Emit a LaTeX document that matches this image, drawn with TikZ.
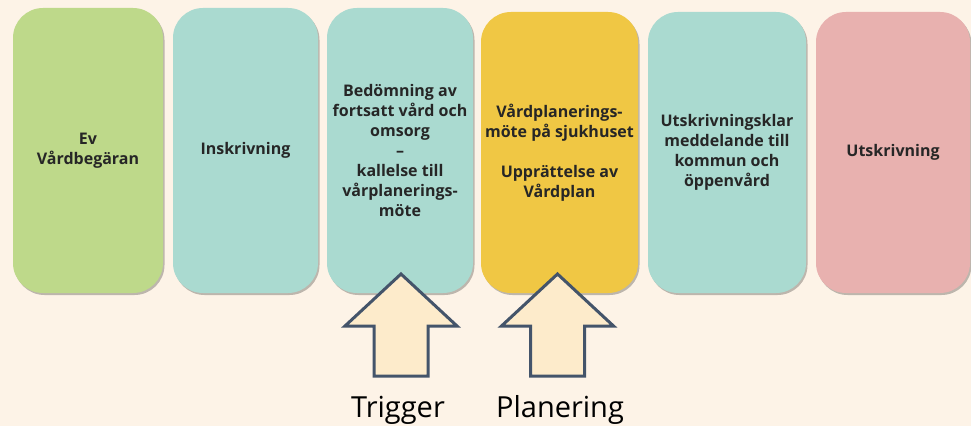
\documentclass[tikz,border=0pt]{standalone}
\usepackage{fontspec}
\setmainfont{Open Sans}
\usetikzlibrary{shadows}
\definecolor{bgcream}{HTML}{FDF3E7}
\definecolor{boxgreen}{HTML}{BED98A}
\definecolor{boxteal}{HTML}{AADAD0}
\definecolor{boxyellow}{HTML}{F0C744}
\definecolor{boxpink}{HTML}{E8B1AF}
\definecolor{arrowfill}{HTML}{FDEBCB}
\definecolor{arrowline}{HTML}{44546A}
\definecolor{boxtext}{HTML}{262626}
\tikzset{
	stepcard/.style={rounded corners=30pt, align=center, inner sep=2pt,
		text=boxtext, font=\bfseries\fontsize{16}{20}\selectfont,
		drop shadow={shadow xshift=1.5pt, shadow yshift=-2pt, fill=black, opacity=0.25}},
	bigarrow/.style={draw=arrowline, fill=arrowfill, line width=3pt, line join=miter},
	arrowlabel/.style={anchor=base, font=\fontsize{29}{34}\selectfont, text=black}
}
% block arrow pointing up, #1 = centre x
\def\uparrowblock(#1){\draw[bigarrow] ({#1},152) -- ({#1+56},100) -- ({#1+27},100) -- ({#1+27},50)
	-- ({#1-27},50) -- ({#1-27},100) -- ({#1-56},100) -- cycle;}

\begin{document}
\begin{tikzpicture}[x=1pt,y=1pt]
			%%%%% BACKGROUND %%%%%
			\fill[bgcream] (0,0) rectangle (971,426);
			\useasboundingbox (0,0) rectangle (971,426);
			
			%%%%% STEPS %%%%%
			\node[stepcard, fill=boxgreen, minimum width=150pt, minimum height=285pt] (ev) at (88,275.5) {Ev\\Vårdbegäran};
			\node[stepcard, fill=boxteal, minimum width=145pt, minimum height=285pt] (inskr) at (245.5,275.5) {Inskrivning};
			\node[stepcard, fill=boxteal, minimum width=146pt, minimum height=285pt] (bedom) at (400,275.5)
				{Bedömning av\\fortsatt vård och\\omsorg\\–\\kallelse till\\vårplanerings-\\möte};
			\node[stepcard, fill=boxyellow, minimum width=157pt, minimum height=281pt] (vpm) at (559.5,273.5)
				{Vårdplanerings-\\möte på sjukhuset\\[20pt]Upprättelse av\\Vårdplan};
			\node[stepcard, fill=boxteal, minimum width=158pt, minimum height=281pt] (utklar) at (727,273.5)
				{Utskrivningsklar\\meddelande till\\kommun och\\öppenvård};
			\node[stepcard, fill=boxpink, minimum width=154pt, minimum height=281pt] (utskr) at (893,273.5) {Utskrivning};
			
			%%%%% ARROWS %%%%%
			\uparrowblock(401)
			\uparrowblock(557.5)
			
			\node[arrowlabel] (trig) at (398,9) {Trigger};
			\node[arrowlabel] (plan) at (560,9) {Planering};
\end{tikzpicture}
\end{document}
